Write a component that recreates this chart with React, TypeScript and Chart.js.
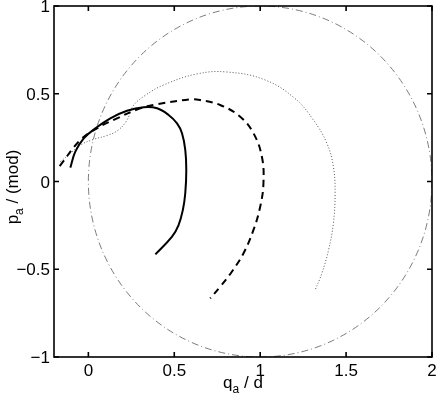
import { useEffect, useRef } from 'react';
import { Chart, registerables } from 'chart.js';

Chart.register(...registerables);

// Axis ranges and ticks
const xRange = [-0.2, 2];
const yRange = [-1, 1];
const xTicks = [0, 0.5, 1, 1.5, 2];
const yTicks = [-1, -0.5, 0, 0.5, 1];

// Reference circle (center and radius in data units)
const circleCenter = [1, 0];
const circleRadius = 1;

// Solid curve
const solidX = [-0.105, -0.076, -0.027, 0.041, 0.128, 0.225, 0.322, 0.40, 0.467, 0.516, 0.545, 0.564, 0.57, 0.564, 0.55, 0.525, 0.487, 0.39];
const solidY = [0.079, 0.17, 0.246, 0.303, 0.36, 0.403, 0.423, 0.417, 0.379, 0.331, 0.275, 0.18, 0.066, -0.067, -0.162, -0.248, -0.314, -0.415];

// Dashed curve
const dashedX = [-0.167, -0.047, 0.05, 0.167, 0.302, 0.40, 0.593, 0.65, 0.767, 0.884, 0.961, 1.01, 1.019, 1.0, 0.961, 0.903, 0.835, 0.767, 0.709];
const dashedY = [0.088, 0.236, 0.303, 0.36, 0.417, 0.44, 0.468, 0.464, 0.436, 0.369, 0.275, 0.141, -0.01, -0.144, -0.276, -0.409, -0.514, -0.6, -0.666];

// Dotted curve
const dottedX = [-0.163, -0.105, -0.047, 0.031, 0.108, 0.17, 0.225, 0.26, 0.33, 0.438, 0.632, 0.806, 1.025, 1.2, 1.31, 1.388, 1.426, 1.436, 1.426, 1.398, 1.359, 1.32];
const dottedY = [0.113, 0.16, 0.208, 0.24, 0.262, 0.29, 0.35, 0.43, 0.49, 0.55, 0.613, 0.624, 0.58, 0.475, 0.35, 0.218, 0.084, -0.067, -0.238, -0.39, -0.523, -0.618];

const toPts = (xs: number[], ys: number[]) => xs.map((x, i) => ({ x, y: ys[i] }));
const fmt = (v: number) => (v < 0 ? '\u2212' + String(-v) : String(v));

const FONT = '"Liberation Sans", Arial, Helvetica, sans-serif';
const TICK_FONT = `17px ${FONT}`;

function drawSubLabel(ctx: CanvasRenderingContext2D, main: string, sub: string, rest: string) {
  const big = `17px ${FONT}`;
  const small = `12px ${FONT}`;
  ctx.font = big;
  const w1 = ctx.measureText(main).width;
  const w3 = ctx.measureText(rest).width;
  ctx.font = small;
  const w2 = ctx.measureText(sub).width;
  const total = w1 + w2 + w3;
  let x = -total / 2;
  ctx.textBaseline = 'alphabetic';
  ctx.textAlign = 'left';
  ctx.font = big;
  ctx.fillText(main, x, 0);
  x += w1;
  ctx.font = small;
  ctx.fillText(sub, x, 5);
  x += w2;
  ctx.font = big;
  ctx.fillText(rest, x, 0);
}

const framePlugin = {
  id: 'frame',
  beforeDatasetsDraw(chart: any) {
    const { ctx, chartArea, scales } = chart;
    const xs = scales.x;
    const ys = scales.y;
    const cx = xs.getPixelForValue(circleCenter[0]);
    const cy = ys.getPixelForValue(circleCenter[1]);
    const rx = Math.abs(xs.getPixelForValue(circleCenter[0] + circleRadius) - cx);
    const ry = Math.abs(ys.getPixelForValue(circleCenter[1] + circleRadius) - cy);
    ctx.save();
    ctx.beginPath();
    ctx.rect(chartArea.left, chartArea.top, chartArea.right - chartArea.left, chartArea.bottom - chartArea.top);
    ctx.clip();
    ctx.beginPath();
    ctx.ellipse(cx, cy, rx, ry, 0, 0, Math.PI * 2);
    ctx.strokeStyle = '#5a5a5a';
    ctx.lineWidth = 0.8;
    ctx.setLineDash([7, 3, 1, 3]);
    ctx.stroke();
    ctx.restore();
  },
  afterDraw(chart: any) {
    const { ctx, chartArea, scales } = chart;
    const { left, right, top, bottom } = chartArea;
    ctx.save();
    ctx.strokeStyle = '#000';
    ctx.lineWidth = 1.6;
    ctx.setLineDash([]);
    ctx.strokeRect(left, top, right - left, bottom - top);
    const tl = 5;
    ctx.beginPath();
    xTicks.forEach((v) => {
      const px = scales.x.getPixelForValue(v);
      ctx.moveTo(px, bottom);
      ctx.lineTo(px, bottom - tl);
      ctx.moveTo(px, top);
      ctx.lineTo(px, top + tl);
    });
    yTicks.forEach((v) => {
      const py = scales.y.getPixelForValue(v);
      ctx.moveTo(left, py);
      ctx.lineTo(left + tl, py);
      ctx.moveTo(right, py);
      ctx.lineTo(right - tl, py);
    });
    ctx.stroke();

    ctx.fillStyle = '#000';
    // tick labels
    ctx.font = TICK_FONT;
    ctx.textBaseline = 'alphabetic';
    ctx.textAlign = 'center';
    xTicks.forEach((v) => {
      const px = scales.x.getPixelForValue(v);
      ctx.fillText(fmt(v), px, bottom + 19);
    });
    ctx.textAlign = 'right';
    yTicks.forEach((v) => {
      const py = scales.y.getPixelForValue(v);
      ctx.fillText(fmt(v), left - 4, py + 6);
    });

    // x title
    ctx.save();
    ctx.translate((left + right) / 2, 388);
    drawSubLabel(ctx, 'q', 'a', ' / d');
    ctx.restore();
    // y title
    ctx.save();
    ctx.translate(18, 187);
    ctx.rotate(-Math.PI / 2);
    drawSubLabel(ctx, 'p', 'a', ' / (mod)');
    ctx.restore();
    ctx.restore();
  },
};

export default function App() {
  const ref = useRef<HTMLCanvasElement | null>(null);
  useEffect(() => {
    document.body.style.margin = '0';
    const canvas = ref.current;
    if (!canvas) return;
    const chart = new Chart(canvas, {
      type: 'scatter',
      data: {
        datasets: [
          {
            label: 'solid',
            data: toPts(solidX, solidY),
            showLine: true,
            borderColor: '#000',
            borderWidth: 2,
            pointRadius: 0,
            tension: 0.4,
          },
          {
            label: 'dashed',
            data: toPts(dashedX, dashedY),
            showLine: true,
            borderColor: '#000',
            borderWidth: 2,
            borderDash: [7, 5],
            pointRadius: 0,
            tension: 0.4,
          },
          {
            label: 'dotted',
            data: toPts(dottedX, dottedY),
            showLine: true,
            borderColor: '#555',
            borderWidth: 1,
            borderDash: [1, 2],
            pointRadius: 0,
            tension: 0.4,
          },
        ],
      },
      options: {
        animation: false,
        responsive: false,
        devicePixelRatio: 1,
        layout: { padding: { top: 6, right: 4, left: 0, bottom: 0 } },
        plugins: {
          legend: { display: false },
          tooltip: { enabled: false },
        },
        scales: {
          x: {
            type: 'linear',
            min: xRange[0],
            max: xRange[1],
            grid: { display: false, drawTicks: false },
            border: { display: false },
            afterBuildTicks: (s: any) => {
              s.ticks = xTicks.map((v) => ({ value: v }));
            },
            afterFit: (s: any) => {
              s.height = 41;
            },
            ticks: { display: false },
          },
          y: {
            type: 'linear',
            min: yRange[0],
            max: yRange[1],
            grid: { display: false, drawTicks: false },
            border: { display: false },
            afterBuildTicks: (s: any) => {
              s.ticks = yTicks.map((v) => ({ value: v }));
            },
            afterFit: (s: any) => {
              s.width = 54;
            },
            ticks: { display: false },
          },
        },
      },
      plugins: [framePlugin],
    });
    return () => chart.destroy();
  }, []);
  return <canvas ref={ref} width={436} height={398} style={{ display: 'block' }} />;
}
